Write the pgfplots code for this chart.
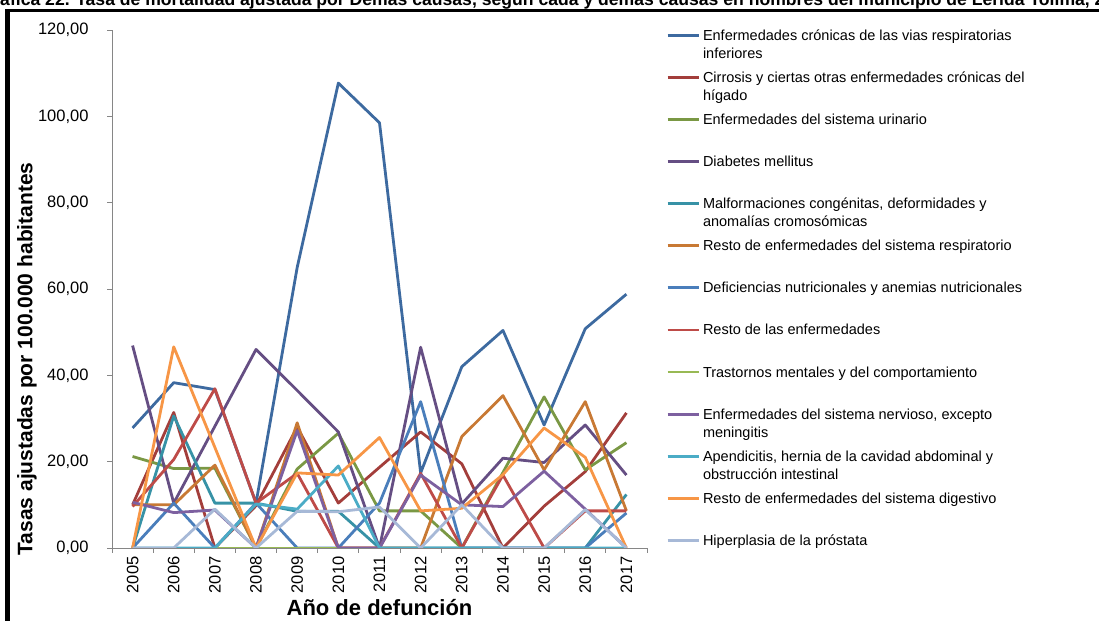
\documentclass[border=0pt]{standalone}
\usepackage{pgfplots}
\pgfplotsset{compat=1.18}
\usepackage{fontspec}
\setmainfont{Liberation Sans}
\definecolor{axisgray}{HTML}{868686}
\definecolor{c1}{HTML}{3D6AA0}
\definecolor{c2}{HTML}{A33E3B}
\definecolor{c3}{HTML}{7A9844}
\definecolor{c4}{HTML}{654E83}
\definecolor{c5}{HTML}{3792A6}
\definecolor{c6}{HTML}{C87934}
\definecolor{c7}{HTML}{4A7EBB}
\definecolor{c8}{HTML}{BE4B48}
\definecolor{c9}{HTML}{98B954}
\definecolor{c10}{HTML}{7D60A0}
\definecolor{c11}{HTML}{4BACC6}
\definecolor{c12}{HTML}{F79646}
\definecolor{c13}{HTML}{A7B9D7}
\pgfplotsset{ser/.style={color=#1, line width=2.8bp, line join=round, mark=none}}
\begin{document}
\begin{tikzpicture}
\useasboundingbox (0,0) rectangle (1099bp,621bp);
\clip (0,0) rectangle (1099bp,621bp);
\node[anchor=base west, font=\bfseries\fontsize{17.6bp}{19bp}\selectfont, inner sep=0pt] at (-20.5bp,615bp) {Gráfica 22. Tasa de mortalidad ajustada por Demás causas, según cada y demás causas en hombres del municipio de Lérida Tolima, 2005 -- 2017};
\fill[black] (5bp,0) rectangle (10bp,612bp);
\fill[black] (5bp,608.5bp) rectangle (1099bp,612bp);
\begin{axis}[
  at={(112bp,73bp)}, anchor=south west,
  scale only axis, width=535bp, height=518bp,
  xmin=-0.5, xmax=12.5, ymin=0, ymax=120,
  axis x line*=bottom, axis y line*=left,
  axis line style={draw=axisgray, line width=0.9bp},
  tick align=outside,
  major tick length=5bp, minor tick length=5bp,
  tick style={draw=axisgray, line width=0.9bp},
  ytick={0,20,...,120},
  xtick={0,...,12},
  xticklabels={2005,2006,2007,2008,2009,2010,2011,2012,2013,2014,2015,2016,2017},
  major x tick style={draw=none},
  minor xtick={-0.5,0.5,...,12.5},
  tick label style={font=\fontsize{16.5bp}{18bp}\selectfont, text=black},
  xticklabel style={rotate=90, anchor=east},
  yticklabel style={anchor=east, xshift=-15bp},
  /pgf/number format/.cd, fixed, fixed zerofill, precision=2, use comma, assume math mode=true,
  /pgfplots/.cd,
  xlabel={Año de defunción},
  ylabel={Tasas ajustadas por 100.000 habitantes},
  xlabel style={font=\bfseries\fontsize{22bp}{24bp}\selectfont, at={(axis description cs:0.5,-0.1158)}, anchor=center},
  ylabel style={font=\bfseries\fontsize{21bp}{24bp}\selectfont, at={(axis description cs:-0.159,0.365)}, anchor=center, rotate=0},
  legend image code/.code={\draw[#1, line width=2.8bp] (0bp,5bp) -- (31bp,5bp);},
  legend style={at={(axis description cs:1.0355,1.0)}, anchor=north west, draw=none, fill=none,
    inner sep=0pt, row sep=0pt, column sep=3bp, cells={anchor=base west},
    nodes={inner sep=0pt, text height=10bp, text depth=32.1bp, font=\fontsize{14.5bp}{18bp}\selectfont}},
]
\addplot[ser=c1] coordinates {(0,27.8)(1,38.3)(2,36.7)(3,10.4)(4,65.0)(5,107.7)(6,98.5)(7,17.4)(8,42.0)(9,50.4)(10,28.5)(11,50.8)(12,58.8)};
\addlegendentry{\parbox[t]{380bp}{Enfermedades crónicas de las vias respiratorias\\inferiores}}
\addplot[ser=c2] coordinates {(0,10.0)(1,31.4)(2,0)(3,9.8)(4,28.0)(5,10.4)(6,18.7)(7,26.9)(8,19.5)(9,0)(10,9.7)(11,17.7)(12,31.3)};
\addlegendentry{\parbox[t]{380bp}{Cirrosis y ciertas otras enfermedades crónicas del\\hígado}}
\addplot[ser=c3] coordinates {(0,21.2)(1,18.4)(2,18.5)(3,0)(4,18.3)(5,26.6)(6,8.6)(7,8.6)(8,0)(9,17.5)(10,35.0)(11,18.1)(12,24.4)};
\addlegendentry{\parbox[t]{380bp}{Enfermedades del sistema urinario}}
\addplot[ser=c4] coordinates {(0,46.9)(1,10.4)(2,28.2)(3,46.0)(4,36.5)(5,26.9)(6,0)(7,46.5)(8,10.2)(9,20.8)(10,19.8)(11,28.5)(12,16.9)};
\addlegendentry{\parbox[t]{380bp}{Diabetes mellitus}}
\addplot[ser=c5] coordinates {(0,0)(1,30.6)(2,10.4)(3,10.4)(4,8.5)(5,8.5)(6,0)(7,0)(8,0)(9,0)(10,0)(11,0)(12,12.4)};
\addlegendentry{\parbox[t]{380bp}{Malformaciones congénitas, deformidades y\\anomalías cromosómicas}}
\addplot[ser=c6] coordinates {(0,10.0)(1,10.0)(2,19.2)(3,0)(4,29.0)(5,0)(6,0)(7,0)(8,25.8)(9,35.3)(10,18.1)(11,33.9)(12,8.6)};
\addlegendentry{\parbox[t]{380bp}{Resto de enfermedades del sistema respiratorio}}
\addplot[ser=c7] coordinates {(0,0)(1,10.4)(2,0)(3,10.4)(4,0)(5,0)(6,10.4)(7,33.9)(8,0)(9,0)(10,0)(11,0)(12,8.1)};
\addlegendentry{\parbox[t]{380bp}{Deficiencias nutricionales y anemias nutricionales}}
\addplot[ser=c8] coordinates {(0,9.6)(1,20.5)(2,36.9)(3,10.4)(4,17.3)(5,0)(6,0)(7,17.3)(8,0)(9,16.9)(10,0)(11,8.6)(12,8.6)};
\addlegendentry{\parbox[t]{380bp}{Resto de las enfermedades}}
\addplot[ser=c9] coordinates {(0,0)(1,0)(2,0)(3,0)(4,0)(5,0)(6,0)(7,0)(8,0)(9,0)(10,0)(11,0)(12,0)};
\addlegendentry{\parbox[t]{380bp}{Trastornos mentales y del comportamiento}}
\addplot[ser=c10] coordinates {(0,10.6)(1,8.2)(2,8.8)(3,0)(4,27.2)(5,0)(6,0)(7,16.9)(8,10.0)(9,9.6)(10,17.8)(11,9.0)(12,0)};
\addlegendentry{\parbox[t]{380bp}{Enfermedades del sistema nervioso, excepto\\meningitis}}
\addplot[ser=c11] coordinates {(0,0)(1,0)(2,0)(3,10.2)(4,9.0)(5,19.0)(6,0)(7,0)(8,0)(9,0)(10,0)(11,0)(12,0)};
\addlegendentry{\parbox[t]{380bp}{Apendicitis, hernia de la cavidad abdominal y\\obstrucción intestinal}}
\addplot[ser=c12] coordinates {(0,0)(1,46.6)(2,23.3)(3,0)(4,17.4)(5,16.9)(6,25.6)(7,8.6)(8,9.2)(9,17.0)(10,27.8)(11,21.0)(12,0)};
\addlegendentry{\parbox[t]{380bp}{Resto de enfermedades del sistema digestivo}}
\addplot[ser=c13] coordinates {(0,0)(1,0)(2,9.0)(3,0)(4,8.5)(5,8.4)(6,9.5)(7,0)(8,10.0)(9,0)(10,0)(11,8.9)(12,0)};
\addlegendentry{\parbox[t]{380bp}{Hiperplasia de la próstata}}
\end{axis}
\end{tikzpicture}
\end{document}
